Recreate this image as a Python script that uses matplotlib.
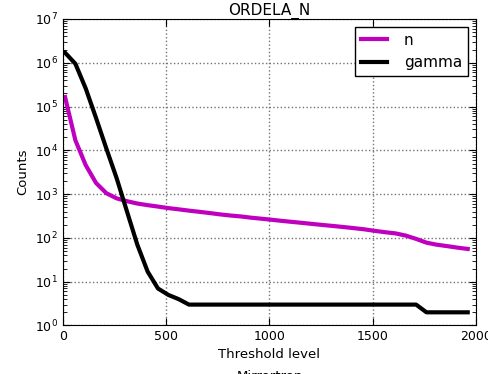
import numpy as np
import matplotlib.pyplot as plt

threshold = np.arange(10, 2000, 50)

n_counts = [1.65e5, 1.7e4, 4.6e3, 1.8e3, 1.05e3, 800, 690, 610, 560, 520,
            480, 450, 420, 395, 370, 345, 325, 310, 290, 275,
            260, 245, 232, 220, 208, 197, 187, 177, 167, 157,
            145, 135, 127, 113, 95, 78, 70, 65, 60, 56]

gamma_counts = [1.7e6, 9.5e5, 2.6e5, 5.5e4, 1.1e4, 2.3e3, 400, 70, 17, 7,
                5, 4, 3, 3, 3, 3, 3, 3, 3, 3,
                3, 3, 3, 3, 3, 3, 3, 3, 3, 3,
                3, 3, 3, 3, 3, 2, 2, 2, 2, 2]

fig = plt.figure(figsize=(4.89, 3.74), dpi=100)
ax = fig.add_axes([0.1288, 0.1297, 0.8446, 0.8195])

ax.plot(threshold, n_counts, color='#bf00bf', lw=3, label='n')
ax.plot(threshold, gamma_counts, color='k', lw=3, label='gamma')

ax.set_yscale('log')
ax.set_xlim(0, 2000)
ax.set_ylim(1, 1e7)
ax.set_xticks([0, 500, 1000, 1500, 2000])
ax.tick_params(which='both', direction='in', top=True, right=True, labelsize=9)
ax.tick_params(which='major', length=5)
ax.tick_params(which='minor', length=3)
ax.grid(True, which='major', linestyle=':', color='0.45', lw=1)

ax.set_title('ORDELA_N', fontsize=11, pad=2)
ax.set_xlabel('Threshold level\nMirrortron', fontsize=9.5, linespacing=1.9, labelpad=3)
ax.set_ylabel('Counts', fontsize=9.5)

leg = ax.legend(loc='upper right', fontsize=11, fancybox=False, framealpha=1,
                edgecolor='k', handlelength=1.7, handletextpad=1.1,
                borderaxespad=0.5)
leg.get_frame().set_linewidth(1)

fig.savefig('out.png', dpi=100)
